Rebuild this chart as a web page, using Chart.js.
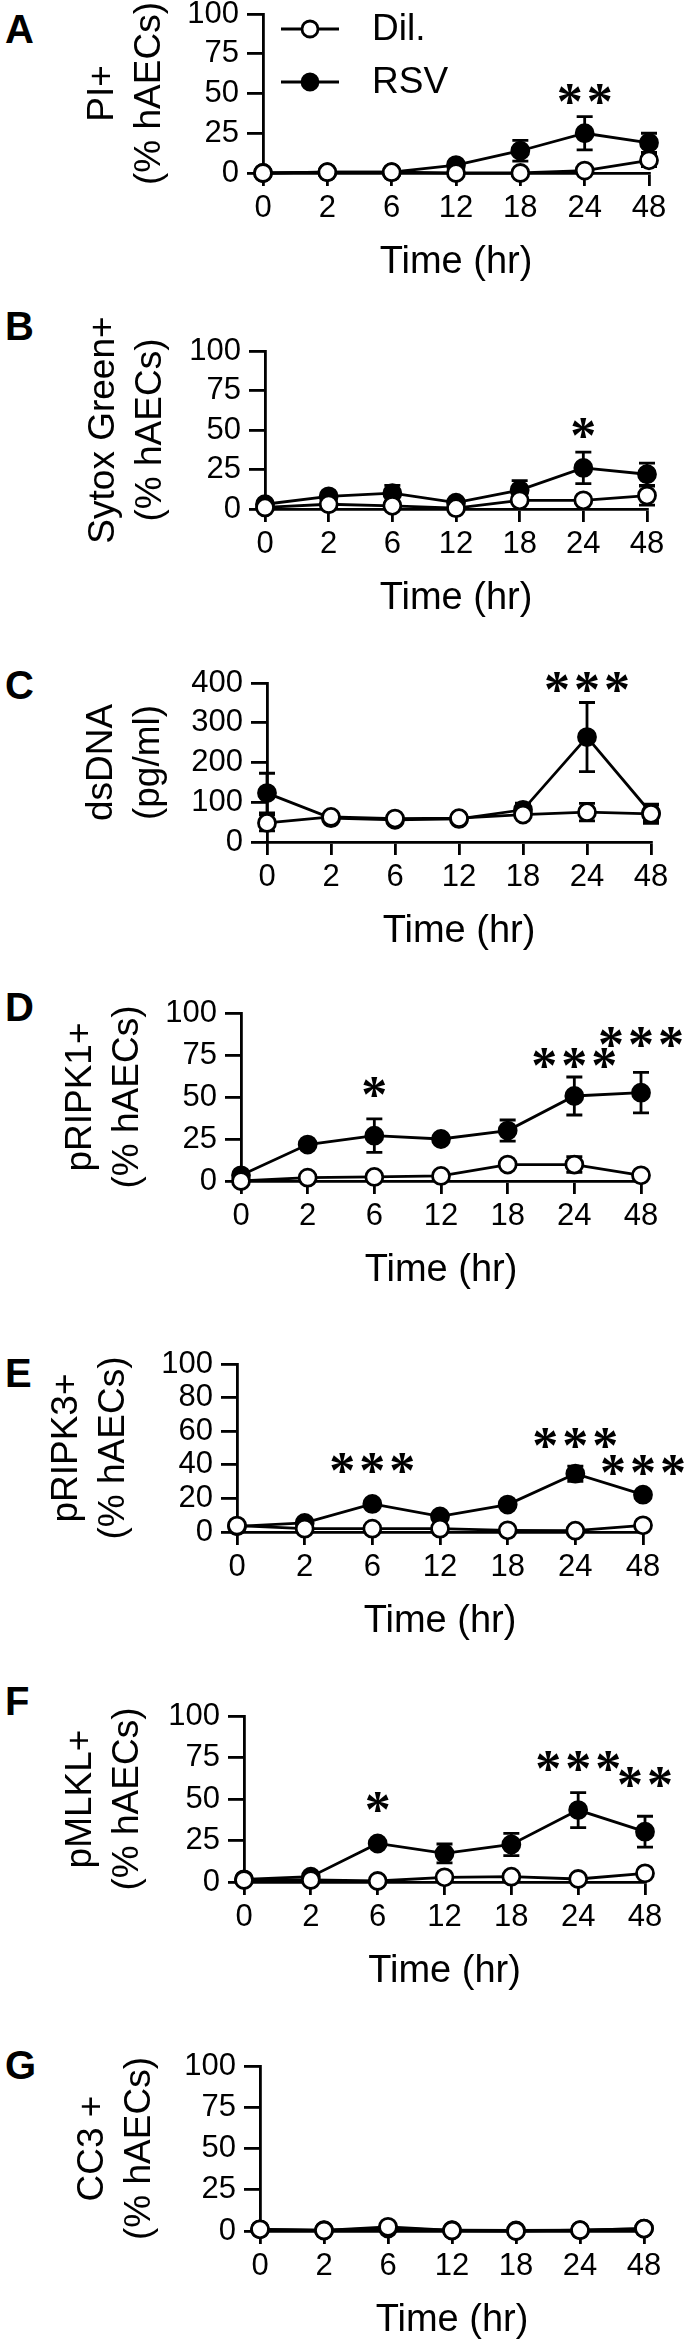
<!DOCTYPE html>
<html>
<head>
<meta charset="utf-8">
<script src="https://cdn.jsdelivr.net/npm/chart.js@4.4.1/dist/chart.umd.min.js"></script>
<style>
html, body { margin: 0; padding: 0; background: #fff; }
body { width: 690px; height: 2346px; position: relative; overflow: hidden; }
canvas { position: absolute; left: 0; }
.letter { position: absolute; left: 5px; font: bold 40px "Liberation Sans", Arial, sans-serif; line-height: 1; color: #000; }
</style>
</head>
<body>
<script>
const FONT = '"Liberation Sans", Arial, sans-serif';
const timeLabels = ['0', '2', '6', '12', '18', '24', '48'];

// A  PI+
const piDil    = [0, 0.5, 0.5, 0, 0, 1.5, 8];
const piDilErr = [0, 0, 0, 0, 0, 0, 4];
const piRsv    = [0, 0.5, 0.5, 5, 14, 25, 19];
const piRsvErr = [0, 0, 0, 1, 6.5, 10.5, 6];
const piSig    = ['', '', '', '', '', '**', ''];
const piSigAt  = [0, 0, 0, 0, 0, 50, 0];

// B  Sytox Green+
const sgDil    = [1, 3, 2, 0.5, 5.5, 5.5, 8.5];
const sgDilErr = [1, 2, 2, 1, 2, 2, 6];
const sgRsv    = [3, 8, 10, 4, 12, 26, 22];
const sgRsvErr = [1, 1.5, 5, 1, 6, 10, 7];
const sgSig    = ['', '', '', '', '', '*', ''];
const sgSigAt  = [0, 0, 0, 0, 0, 51, 0];

// C  dsDNA
const dnaDil    = [48, 63, 59, 60, 69, 75, 71];
const dnaDilErr = [20, 5, 5, 5, 8, 22, 24];
const dnaRsv    = [123, 60, 56, 58, 81, 264, 73];
const dnaRsvErr = [50, 5, 5, 5, 17, 87, 20];
const dnaSig    = ['', '', '', '', '', '***', ''];
const dnaSigAt  = [0, 0, 0, 0, 0, 402, 0];

// D  pRIPK1+
const r1Dil    = [0, 2, 2.4, 3, 9.8, 9.8, 3.4];
const r1DilErr = [0, 0, 0, 0, 2, 4.7, 0];
const r1Rsv    = [3.4, 21.7, 27, 25, 30, 50.6, 52.6];
const r1RsvErr = [0, 1, 10, 1, 6.3, 11.3, 12];
const r1Sig    = ['', '', '*', '', '', '***', '***'];
const r1SigAt  = [0, 0, 56, 0, 0, 73, 86];

// E  pRIPK3+
const r3Dil    = [3.8, 2, 2, 2, 1, 0.8, 4];
const r3DilErr = [0, 0, 0, 0, 0, 0, 0];
const r3Rsv    = [3.4, 5.4, 16.7, 9.3, 16.3, 34.7, 22.2];
const r3RsvErr = [0, 0, 1, 1, 1, 4.5, 1];
const r3Sig    = ['', '', '***', '', '', '***', '***'];
const r3SigAt  = [0, 0, 41, 0, 0, 56, 40];

// F  pMLKL+
const mlDil    = [1.2, 1.2, 0.6, 2.8, 3.2, 1.8, 5.2];
const mlDilErr = [0, 0, 0, 0, 0, 0, 0];
const mlRsv    = [1.6, 3.2, 23.2, 17.2, 22.6, 43.3, 30.3];
const mlRsvErr = [0, 0, 1, 5.7, 6.7, 10.6, 9.3];
const mlSig    = ['', '', '*', '', '', '***', '**'];
const mlSigAt  = [0, 0, 48, 0, 0, 73, 63];

// G  CC3 +
const ccDil    = [1, 0.3, 2.5, 0.3, 0, 0.5, 1.5];
const ccDilErr = [0, 0, 0, 0, 0, 0, 0];
const ccRsv    = [1, 0.5, 1.5, 0.5, 0.3, 0.5, 1.5];
const ccRsvErr = [0, 0, 0, 0, 0, 0, 0];
const ccSig    = ['', '', '', '', '', '', ''];
const ccSigAt  = [0, 0, 0, 0, 0, 0, 0];

const PADT = 50, XH = 112, LW = 2.8, STAR_GAP = 4;

// panel frame: letter cap top, chart area (page px), y title line-1 centre
const panels = [
  {letter: 'A', ly: 14,   top: 14,   bottom: 173,  left: 263, right: 649, t1: 103, max: 100, step: 25,
   title: ['PI+', '(% hAECs)'], dil: piDil, dilErr: piDilErr, rsv: piRsv, rsvErr: piRsvErr, sig: piSig, sigAt: piSigAt, legend: true},
  {letter: 'B', ly: 311,  top: 351,  bottom: 509,  left: 265, right: 647, t1: 104, max: 100, step: 25,
   title: ['Sytox Green+', '(% hAECs)'], dil: sgDil, dilErr: sgDilErr, rsv: sgRsv, rsvErr: sgRsvErr, sig: sgSig, sigAt: sgSigAt},
  {letter: 'C', ly: 670,  top: 683,  bottom: 842,  left: 267, right: 651, t1: 102, max: 400, step: 100,
   title: ['dsDNA', '(pg/ml)'], dil: dnaDil, dilErr: dnaDilErr, rsv: dnaRsv, rsvErr: dnaRsvErr, sig: dnaSig, sigAt: dnaSigAt},
  {letter: 'D', ly: 992,  top: 1013, bottom: 1181, left: 241, right: 641, t1: 81, max: 100, step: 25,
   title: ['pRIPK1+', '(% hAECs)'], dil: r1Dil, dilErr: r1DilErr, rsv: r1Rsv, rsvErr: r1RsvErr, sig: r1Sig, sigAt: r1SigAt},
  {letter: 'E', ly: 1358, top: 1364, bottom: 1532, left: 237, right: 643, t1: 67, max: 100, step: 20,
   title: ['pRIPK3+', '(% hAECs)'], dil: r3Dil, dilErr: r3DilErr, rsv: r3Rsv, rsvErr: r3RsvErr, sig: r3Sig, sigAt: r3SigAt},
  {letter: 'F', ly: 1686, top: 1716, bottom: 1882, left: 244, right: 645, t1: 81, max: 100, step: 25,
   title: ['pMLKL+', '(% hAECs)'], dil: mlDil, dilErr: mlDilErr, rsv: mlRsv, rsvErr: mlRsvErr, sig: mlSig, sigAt: mlSigAt},
  {letter: 'G', ly: 2050, top: 2066, bottom: 2231, left: 260, right: 644, t1: 93, max: 100, step: 25,
   title: ['CC3 +', '(% hAECs)'], dil: ccDil, dilErr: ccDilErr, rsv: ccRsv, rsvErr: ccRsvErr, sig: ccSig, sigAt: ccSigAt}
];

const errorBars = {
  id: 'errorBars',
  beforeDatasetsDraw(chart) {
    const ctx = chart.ctx, ys = chart.scales.y;
    ctx.save();
    ctx.strokeStyle = '#000';
    ctx.lineWidth = LW;
    chart.data.datasets.forEach((ds, di) => {
      chart.getDatasetMeta(di).data.forEach((pt, i) => {
        const e = ds.err[i];
        if (!e) return;
        const yt = ys.getPixelForValue(ds.data[i] + e);
        const yb = ys.getPixelForValue(Math.max(ds.data[i] - e, 0));
        ctx.beginPath();
        ctx.moveTo(pt.x, yt); ctx.lineTo(pt.x, yb);
        ctx.moveTo(pt.x - 8, yt); ctx.lineTo(pt.x + 8, yt);
        ctx.moveTo(pt.x - 8, yb); ctx.lineTo(pt.x + 8, yb);
        ctx.stroke();
      });
    });
    ctx.restore();
  }
};

// asterisks, centred on the level given in data units
const sigMarks = {
  id: 'sigMarks',
  afterDatasetsDraw(chart) {
    const ctx = chart.ctx, ys = chart.scales.y, xs = chart.scales.x;
    const o = chart.options;
    ctx.save();
    ctx.fillStyle = '#000';
    ctx.font = 'bold 52px "Liberation Serif", "Times New Roman", serif';
    ctx.letterSpacing = STAR_GAP + 'px';
    ctx.textAlign = 'center';
    ctx.textBaseline = 'alphabetic';
    o.sig.forEach((s, i) => {
      if (!s) return;
      const m = ctx.measureText(s);
      const yc = ys.getPixelForValue(o.sigAt[i]);
      const base = yc + (m.actualBoundingBoxAscent - m.actualBoundingBoxDescent) / 2;
      ctx.fillText(s, xs.getPixelForValue(i) + STAR_GAP / 2, base);
    });
    ctx.restore();
  }
};

const legendBox = {
  id: 'legendBox',
  afterDraw(chart) {
    if (!chart.options.showLegend) return;
    const ctx = chart.ctx, off = chart.options.canvasTop;
    const rows = [[chart.data.datasets[0], 29], [chart.data.datasets[1], 82]];
    ctx.save();
    rows.forEach(([ds, y]) => {
      const yy = y - off;
      ctx.strokeStyle = '#000';
      ctx.lineWidth = LW;
      ctx.beginPath(); ctx.moveTo(281, yy); ctx.lineTo(339, yy); ctx.stroke();
      ctx.beginPath(); ctx.arc(310, yy, 8, 0, Math.PI * 2);
      ctx.fillStyle = ds.pointBackgroundColor; ctx.fill(); ctx.stroke();
      ctx.fillStyle = '#000';
      ctx.font = '37px ' + FONT;
      ctx.textBaseline = 'middle';
      ctx.fillText(ds.label, 372, yy + 1);
    });
    ctx.restore();
  }
};

function seriesStyle(label, fill, data, err) {
  return {
    label: label, data: data, err: err,
    borderColor: '#000', borderWidth: LW,
    pointBackgroundColor: fill, pointBorderColor: '#000',
    pointBorderWidth: LW, pointRadius: 8.5,
    tension: 0, clip: false
  };
}

panels.forEach(p => {
  const letter = document.createElement('div');
  letter.className = 'letter';
  letter.textContent = p.letter;
  letter.style.top = (p.ly - 5) + 'px';
  document.body.appendChild(letter);

  const cv = document.createElement('canvas');
  const h = PADT + (p.bottom - p.top) + XH;
  const canvasTop = p.top - PADT;
  cv.width = 690; cv.height = h;
  cv.style.top = canvasTop + 'px';
  document.body.appendChild(cv);

  const tickFont = {family: FONT, size: 31};
  new Chart(cv, {
    type: 'line',
    data: {
      labels: timeLabels,
      datasets: [
        seriesStyle('Dil.', '#fff', p.dil, p.dilErr),
        seriesStyle('RSV', '#000', p.rsv, p.rsvErr)
      ]
    },
    options: {
      responsive: false,
      animation: false,
      sig: p.sig,
      sigAt: p.sigAt,
      showLegend: !!p.legend,
      canvasTop: canvasTop,
      layout: {padding: {top: PADT, right: 690 - p.right, bottom: 0, left: 0}},
      plugins: {legend: {display: false}, tooltip: {enabled: false}},
      scales: {
        x: {
          offset: false,
          grid: {drawOnChartArea: false, tickLength: 13, color: '#000', lineWidth: LW},
          border: {color: '#000', width: LW},
          ticks: {color: '#000', font: tickFont, padding: 4, maxRotation: 0, autoSkip: false},
          title: {display: true, text: 'Time (hr)', color: '#000', padding: 0,
                  font: {family: FONT, size: 38, lineHeight: 1.2}},
          afterFit(s) { s.height = XH; }
        },
        y: {
          min: 0, max: p.max,
          grid: {drawOnChartArea: false, tickLength: 16, color: '#000', lineWidth: LW},
          border: {color: '#000', width: LW},
          ticks: {color: '#000', font: tickFont, padding: 8, stepSize: p.step, autoSkip: false},
          title: {display: true, text: p.title, color: '#000',
                  padding: {top: p.t1 - 23, bottom: 0},
                  font: {family: FONT, size: 37, lineHeight: 1.25}},
          afterFit(s) { s.width = p.left; }
        }
      }
    },
    plugins: [errorBars, sigMarks, legendBox]
  });
});
</script>
</body>
</html>
